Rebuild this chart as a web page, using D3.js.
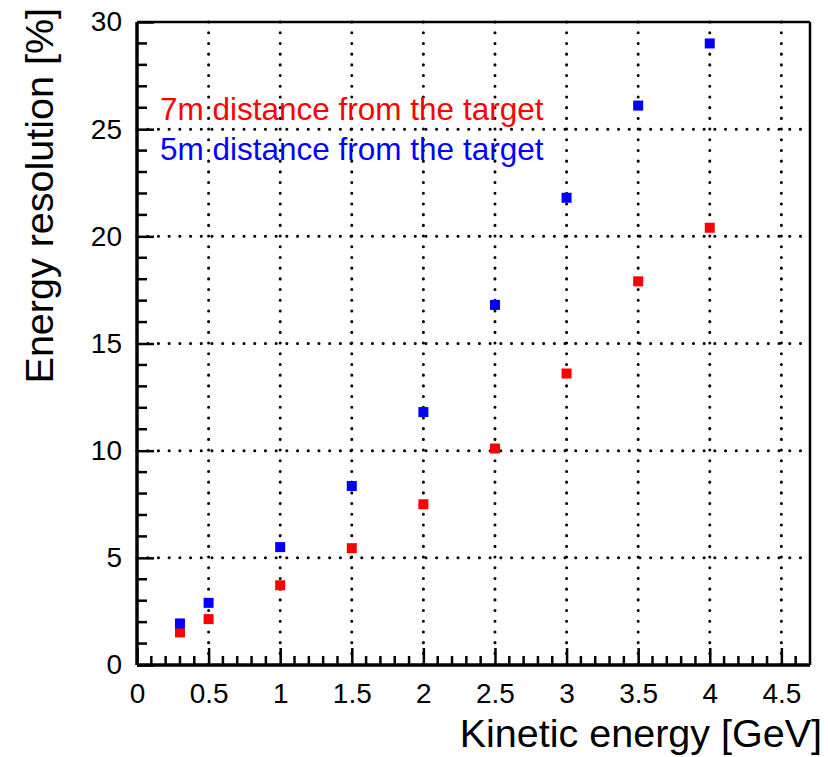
<!DOCTYPE html>
<html>
<head>
<meta charset="utf-8">
<script src="https://cdn.jsdelivr.net/npm/d3@7"></script>
<style>
  body { margin: 0; background: #fff; }
  svg { display: block; font-family: "Liberation Sans", Arial, sans-serif; }
</style>
</head>
<body>
<div id="chart"></div>
<script>
// data
const energies = [0.3, 0.5, 1, 1.5, 2, 2.5, 3, 3.5, 4];
const res7m = [1.52, 2.14, 3.72, 5.45, 7.5, 10.1, 13.6, 17.9, 20.4];
const res5m = [1.94, 2.9, 5.5, 8.35, 11.8, 16.8, 21.8, 26.1, 29.0];
const xTicks = [0, 0.5, 1, 1.5, 2, 2.5, 3, 3.5, 4, 4.5];
const yTicks = [0, 5, 10, 15, 20, 25, 30];
const legendLabels = ['7m distance from the target', '5m distance from the target'];

const width = 828, height = 757;
const margin = { top: 22, right: 18, bottom: 92, left: 137 };
const innerW = width - margin.left - margin.right;
const innerH = height - margin.top - margin.bottom;

const svg = d3.select('#chart')
  .append('svg')
  .attr('width', width)
  .attr('height', height);

const g = svg.append('g')
  .attr('transform', `translate(${margin.left},${margin.top})`);

const x = d3.scaleLinear().domain([0, 4.7]).range([0, innerW]);
const y = d3.scaleLinear().domain([0, 30]).range([innerH, 0]);

// dotted grid
g.selectAll('.gx')
  .data(xTicks.filter(d => d > 0))
  .enter()
  .append('line')
  .attr('x1', d => x(d)).attr('x2', d => x(d))
  .attr('y1', 0).attr('y2', innerH)
  .attr('stroke', '#000')
  .attr('stroke-width', 3)
  .attr('stroke-linecap', 'round')
  .attr('stroke-dasharray', '0.1 10.6');

g.selectAll('.gy')
  .data(yTicks.filter(d => d > 0 && d < 30))
  .enter()
  .append('line')
  .attr('x1', 0).attr('x2', innerW)
  .attr('y1', d => y(d)).attr('y2', d => y(d))
  .attr('stroke', '#000')
  .attr('stroke-width', 3)
  .attr('stroke-linecap', 'round')
  .attr('stroke-dasharray', '0.1 10.6');

// axes (ROOT style: ticks inside)
const xAxis = d3.axisBottom(x)
  .tickValues(xTicks)
  .tickFormat(d3.format('~g'))
  .tickSizeInner(-17)
  .tickSizeOuter(0)
  .tickPadding(18);

const xMinor = d3.range(0, 47).map(i => i / 10).filter(v => Math.round(v * 10) % 5 !== 0);

g.append('g')
  .attr('transform', `translate(0,${innerH})`)
  .selectAll('line')
  .data(xMinor)
  .enter()
  .append('line')
  .attr('x1', d => x(d)).attr('x2', d => x(d))
  .attr('y1', 0).attr('y2', -9)
  .attr('stroke', '#000')
  .attr('stroke-width', 2.5);

const gx = g.append('g')
  .attr('transform', `translate(0,${innerH})`)
  .call(xAxis);
gx.select('.domain').remove();
gx.selectAll('line').attr('stroke-width', 2.5);
gx.selectAll('text')
  .style('font-size', '28px')
  .attr('fill', '#000');

const yMinor = d3.range(0, 31).filter(v => v % 5 !== 0);

g.append('g')
  .selectAll('line')
  .data(yMinor)
  .enter()
  .append('line')
  .attr('x1', 0).attr('x2', 10)
  .attr('y1', d => y(d)).attr('y2', d => y(d))
  .attr('stroke', '#000')
  .attr('stroke-width', 2.5);

const yAxis = d3.axisLeft(y)
  .tickValues(yTicks)
  .tickSizeInner(-17)
  .tickSizeOuter(0)
  .tickPadding(15);

const gy = g.append('g').call(yAxis);
gy.select('.domain').remove();
gy.selectAll('line').attr('stroke-width', 2.5);
gy.selectAll('text')
  .style('font-size', '28px')
  .attr('fill', '#000');

// frame
g.append('line').attr('x1', 0).attr('x2', innerW).attr('y1', innerH).attr('y2', innerH)
  .attr('stroke', '#000').attr('stroke-width', 3.5);
g.append('line').attr('x1', 0).attr('x2', 0).attr('y1', 0).attr('y2', innerH)
  .attr('stroke', '#000').attr('stroke-width', 3.5);
g.append('line').attr('x1', 0).attr('x2', innerW).attr('y1', 0).attr('y2', 0)
  .attr('stroke', '#000').attr('stroke-width', 2.5);
g.append('line').attr('x1', innerW).attr('x2', innerW).attr('y1', 0).attr('y2', innerH)
  .attr('stroke', '#000').attr('stroke-width', 2.5);

// markers
const sq = 10;
const series = [
  { values: res7m, color: '#ff0000' },
  { values: res5m, color: '#0000ff' }
];
series.forEach(s => {
  g.selectAll(null)
    .data(energies.map((e, i) => ({ e, v: s.values[i] })))
    .enter()
    .append('rect')
    .attr('x', d => x(d.e) - sq / 2)
    .attr('y', d => y(d.v) - sq / 2)
    .attr('width', sq)
    .attr('height', sq)
    .attr('fill', s.color);
});

// legend text
g.append('text')
  .attr('x', 23).attr('y', 98)
  .style('font-size', '31.5px')
  .attr('fill', '#ff0000')
  .text(legendLabels[0]);
g.append('text')
  .attr('x', 23).attr('y', 138)
  .style('font-size', '31.5px')
  .attr('fill', '#0000ff')
  .text(legendLabels[1]);

// axis titles
svg.append('text')
  .attr('x', 822).attr('y', 747)
  .attr('text-anchor', 'end')
  .style('font-size', '39.5px')
  .text('Kinetic energy [GeV]');

svg.append('text')
  .attr('transform', 'translate(53,8) rotate(-90)')
  .attr('text-anchor', 'end')
  .style('font-size', '39.5px')
  .text('Energy resolution [%]');
</script>
</body>
</html>
